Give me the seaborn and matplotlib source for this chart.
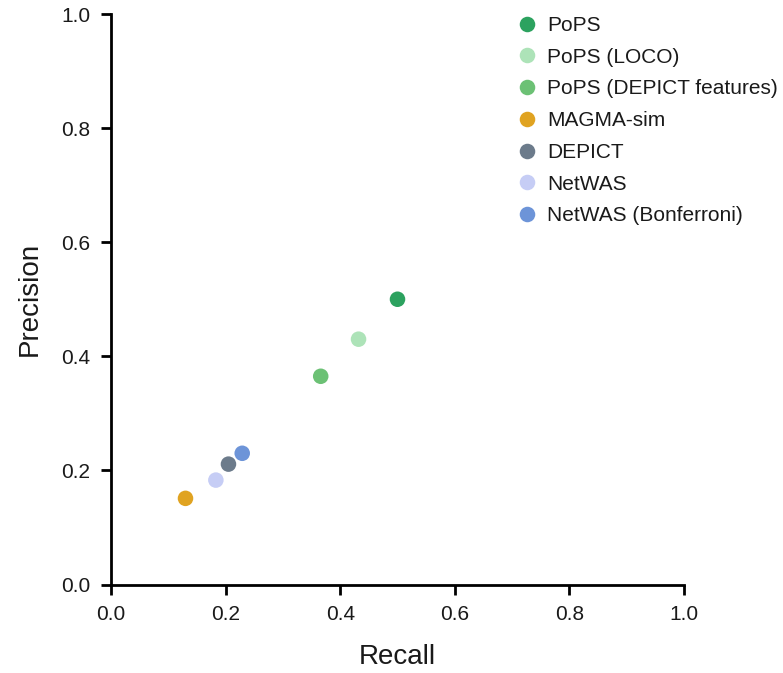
import matplotlib
matplotlib.use("Agg")
import matplotlib.pyplot as plt
import seaborn as sns
import pandas as pd

methods = ["PoPS", "PoPS (LOCO)", "PoPS (DEPICT features)", "MAGMA-sim",
           "DEPICT", "NetWAS", "NetWAS (Bonferroni)"]
recall = [0.500, 0.432, 0.366, 0.130, 0.205, 0.183, 0.229]
precision = [0.500, 0.430, 0.365, 0.151, 0.211, 0.183, 0.230]
colors = ["#2ca25f", "#ade3b8", "#6cc175", "#e0a321",
          "#6c7b8b", "#c6cdf5", "#6d94d8"]
ticks = [0.0, 0.2, 0.4, 0.6, 0.8, 1.0]

df = pd.DataFrame({"method": methods, "recall": recall, "precision": precision})

sns.set_theme(style="ticks")
plt.rcParams["font.family"] = ["Liberation Sans", "DejaVu Sans"]

fig = plt.figure(figsize=(7.83, 6.73), dpi=100)
ax = fig.add_axes([111 / 783, 1 - 584.5 / 673, 573 / 783, 570.5 / 673])

sns.scatterplot(data=df, x="recall", y="precision", hue="method",
                hue_order=methods, palette=dict(zip(methods, colors)),
                s=125, linewidth=0, ax=ax, legend=True, clip_on=False)

ax.set_xlim(0, 1)
ax.set_ylim(0, 1)
ax.set_xticks(ticks)
ax.set_yticks(ticks)
ax.set_xticklabels([f"{t:.1f}" for t in ticks])
ax.set_yticklabels([f"{t:.1f}" for t in ticks])
ax.set_xlabel("Recall", fontsize=20, labelpad=14, color="#1a1a1a")
ax.set_ylabel("Precision", fontsize=20, labelpad=13, color="#1a1a1a")
ax.tick_params(axis="both", labelsize=15, length=7, width=2, color="black",
               labelcolor="#1a1a1a", pad=8)
for side in ("left", "bottom"):
    ax.spines[side].set_linewidth(2)
    ax.spines[side].set_color("black")
sns.despine(ax=ax)

handles, labels = ax.get_legend_handles_labels()
leg = ax.legend(handles, labels, loc="upper left",
                bbox_to_anchor=(510 / 783, 1 - 16 / 673),
                bbox_transform=fig.transFigure, frameon=False, fontsize=15,
                labelspacing=0.61, handletextpad=0.2, handlelength=1.6,
                markerscale=1.0, borderaxespad=0, borderpad=0)
for t in leg.get_texts():
    t.set_color("#1a1a1a")

fig.savefig("out.png", dpi=100)
